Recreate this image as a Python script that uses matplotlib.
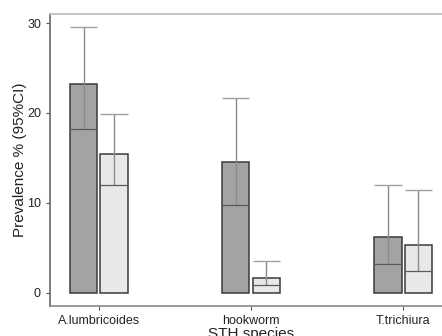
import matplotlib
matplotlib.use("Agg")
import matplotlib.pyplot as plt
import numpy as np

plt.rcParams['font.family'] = ['Liberation Sans', 'DejaVu Sans']

# prevalence and 95% CI, two groups per species
species = ["A.lumbricoides", "hookworm", "T.trichiura"]
prev_a = [23.2, 14.5, 6.2]
low_a = [18.2, 9.8, 3.2]
high_a = [29.6, 21.7, 12.0]
prev_b = [15.4, 1.7, 5.3]
low_b = [12.0, 0.9, 2.4]
high_b = [19.9, 3.6, 11.4]

x = np.arange(len(species))
w = 0.18
off = 0.1

fig = plt.figure(figsize=(4.42, 3.36), dpi=100)
ax = fig.add_axes([0.1131, 0.0893, 0.9095, 0.869])

for xs, prev, lo, hi, col in [(x - off, prev_a, low_a, high_a, '#a3a3a3'),
                              (x + off, prev_b, low_b, high_b, '#e8e8e8')]:
    ax.bar(xs, prev, width=w, color=col, edgecolor='#3a3a3a', linewidth=1.1, zorder=2)
    ax.vlines(xs, lo, hi, color='#8c8c8c', linewidth=1.0, zorder=3)
    ax.hlines(hi, xs - w / 2, xs + w / 2, color='#a0a0a0', linewidth=1.0, zorder=3)
    ax.hlines(lo, xs - w / 2, xs + w / 2, color='#5a5a5a', linewidth=0.9, zorder=3)

ax.set_xlim(-0.322, 2.322)
ax.set_ylim(-1.45, 31)
ax.set_yticks([0, 10, 20, 30])
ax.set_xticks(x)
ax.set_xticklabels(species)
ax.tick_params(axis='both', labelsize=9, colors='#555555', labelcolor='#222222', length=3, width=0.8)
ax.set_ylabel("Prevalence % (95%CI)", fontsize=11, color='#222222', labelpad=0)
ax.set_xlabel("STH species", fontsize=11, color='#222222', labelpad=0)

ax.spines['left'].set_color('#666666')
ax.spines['top'].set_color('#bbbbbb')
ax.spines['bottom'].set_color('#888888')
ax.spines['right'].set_color('#bbbbbb')
for s in ax.spines.values():
    s.set_linewidth(1.2)

fig.savefig("out.png", dpi=100)
